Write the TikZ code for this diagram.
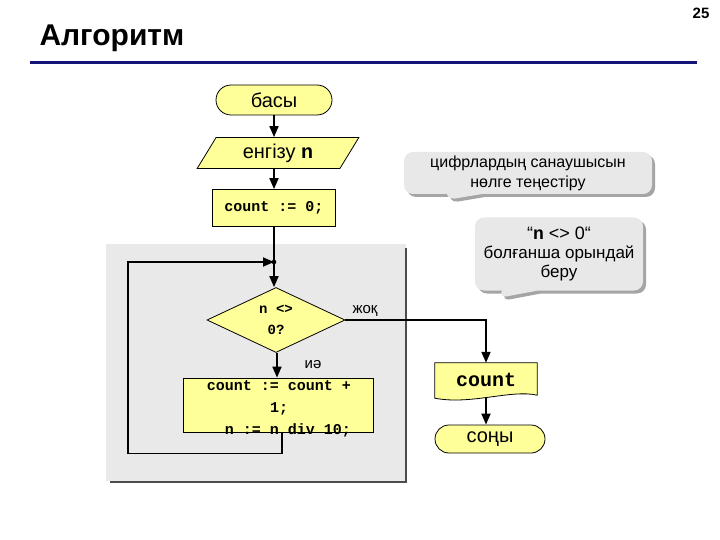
\documentclass[tikz,border=0pt]{standalone}
\usepackage{fontspec}
\setmainfont{Liberation Sans}
\setmonofont{Liberation Mono}
\usetikzlibrary{shapes.geometric,shapes.misc,shapes.callouts,shadows,arrows.meta,backgrounds,calc}
\definecolor{fcyellow}{RGB}{255,255,153}
\definecolor{navyline}{RGB}{20,20,120}
\begin{document}
\begin{tikzpicture}[x=1pt,y=-1pt,
  box/.style={draw=black, line width=0.8pt, fill=fcyellow, inner sep=0pt, align=center},
  arr/.style={line width=1.8pt, -{Triangle[length=11pt,width=9pt]}},
  ln/.style={line width=1.8pt},
  mono/.style={font=\fontsize{15}{22}\selectfont\ttfamily\bfseries},
  txt/.style={font=\fontsize{20}{24}\selectfont},
  lbl/.style={font=\fontsize{15}{18}\selectfont},
  note/.style={rectangle callout, rounded corners=9pt, fill=gray!18, align=center, inner sep=0pt,
    font=\fontsize{16}{20}\selectfont, callout pointer width=36pt,
    drop shadow={shadow xshift=3pt, shadow yshift=-3pt, fill=black!70}}
]
\useasboundingbox (0,0) rectangle (720,540);

% header
\node[font=\fontsize{15}{17}\selectfont\bfseries] (pg) at (701,13) {25};
\node[anchor=west, font=\fontsize{30}{34}\selectfont\bfseries] (title) at (36,38) {Алгоритм};
\draw[navyline, line width=3pt] (30,63) -- (697,63);

% gray loop region
\fill[gray!17] (106,244) rectangle (406,481);
\draw[black!70, line width=2.5pt] (406,248) -- (406,482) -- (110,482);

% flowchart nodes
\node[box, rounded rectangle, minimum width=116pt, minimum height=30pt, txt] (start) at (274,100) {басы};
\node[box, trapezium, trapezium left angle=60, trapezium right angle=120, trapezium stretches=true,
  minimum width=163pt, minimum height=31pt, txt] (in) at (278,153) {енгізу {\ttfamily\bfseries n}};
\node[box, minimum width=123pt, minimum height=37pt, mono] (init) at (274,208) {count := 0;};
\coordinate (j) at (274,262);
\node[box, diamond, minimum width=138pt, minimum height=65pt, font=\fontsize{14}{21}\selectfont\ttfamily\bfseries] (dec) at (276,320) {n <>\\0?};
\node[box, minimum width=190pt, minimum height=54pt] (body) at (278,405) {};
\node[mono, align=center, inner sep=0pt] (bodytxt) at (279,409) {count := count +\\1;\\\hphantom{nn}n := n div 10;};
\node[font=\fontsize{20}{24}\selectfont\ttfamily\bfseries, minimum width=102pt, minimum height=34pt, inner sep=0pt] (out) at (486,380) {count};
\begin{scope}[on background layer]
  \draw[box] (out.north west) -- (out.north east) -- ($(out.south east)+(0,-2)$)
    .. controls ($(out.south)+(25,-8)$) and ($(out.south)+(-15,8)$) .. ($(out.south west)+(0,1)$) -- cycle;
\end{scope}
\node[box, rounded rectangle, minimum width=110pt, minimum height=28pt, txt] (end) at (490,439) {соңы};

% connectors
\draw[arr] (start.south) -- (start.south |- in.north);
\draw[arr] (init.north |- in.south) -- (init.north);
\draw[ln] (init.south) -- (j);
\draw[arr] (j) -- (j |- dec.north);
\fill (j) circle (2.3pt);
\draw[arr] ([xshift=1pt]dec.south) -- ([xshift=1pt]dec.south |- body.north);
\draw[arr] ([xshift=4pt]body.south) -- ++(0,21) -| (128,262) -- (j);
\draw[arr] (dec.east) -| (out.north);
\draw[arr] (out.south) -- (out.south |- end.north);

\node[lbl] (no) at (365,311) {жоқ};
\node[lbl] (yes) at (313,365) {иә};

% callouts
\node[note, minimum width=248pt, minimum height=42pt, callout absolute pointer={(446,200)}] (c1) at (528,173)
  {цифрлардың санаушысын\\нөлге теңестіру};
\node[note, minimum width=168pt, minimum height=73pt, font=\fontsize{17}{19}\selectfont, callout absolute pointer={(498,298)}] (c2) at (559,254)
  {{\fontsize{18}{19}\selectfont “{\ttfamily\bfseries n} <> 0“}\\болғанша орындай\\беру};
\end{tikzpicture}
\end{document}
